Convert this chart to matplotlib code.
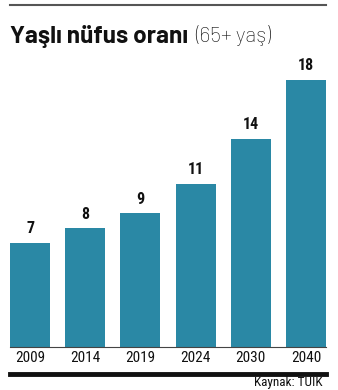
import matplotlib.pyplot as plt
from matplotlib.lines import Line2D

# Veri
years = ["2009", "2014", "2019", "2024", "2030", "2040"]
values = [7, 8, 9, 11, 14, 18]

bar_color = "#2a88a5"
narrow = ["Roboto Condensed", "Oswald", "DejaVu Sans"]
title_font = ["Barlow", "Roboto", "DejaVu Sans"]

fig = plt.figure(figsize=(3.38, 3.90), dpi=100)
ax = fig.add_axes([10 / 338, 43 / 390, 316 / 338, 287 / 390])

x = range(len(years))
ax.bar(x, values, width=0.727, color=bar_color)
ax.set_xlim(-0.3636, len(years) - 1 + 0.3636)
ax.set_ylim(0, 19.33)

for xi, v in zip(x, values):
    ax.text(xi, v + 0.45, str(v), ha="center", va="bottom",
            fontsize=11.5, fontweight="bold", family=narrow, color="#111111")

ax.set_xticks(list(x))
ax.set_xticklabels(years, family=narrow, fontsize=11, color="#111111")
ax.tick_params(axis="x", length=0, pad=3)
ax.set_yticks([])
for s in ["top", "left", "right"]:
    ax.spines[s].set_visible(False)
ax.spines["bottom"].set_color("#444444")
ax.spines["bottom"].set_linewidth(0.8)

# Üst ve alt çizgiler
fig.add_artist(Line2D([10 / 338, 326 / 338], [1 - 5 / 390, 1 - 5 / 390],
                      color="#555555", linewidth=1.5))
fig.add_artist(Line2D([10 / 338, 326 / 338], [1 - 374 / 390, 1 - 374 / 390],
                      color="#111111", linewidth=3.5))

# Başlık
t = fig.text(10 / 338, 1 - 36 / 390, "Yaşlı nüfus oranı", family=title_font,
             fontweight="bold", fontsize=17.5, va="center", ha="left", color="#111111")
fig.canvas.draw()
bb = t.get_window_extent()
fig.text((bb.x1 + 7) / 338, 1 - 36 / 390, "(65+ yaş)", family=title_font,
         fontweight="light", fontsize=15.5, va="center", ha="left", color="#111111")

fig.text(323 / 338, 1 - 382 / 390, "Kaynak: TÜİK", family=narrow,
         fontsize=9.5, ha="right", va="center", color="#111111")

fig.savefig("out.png", dpi=100)
